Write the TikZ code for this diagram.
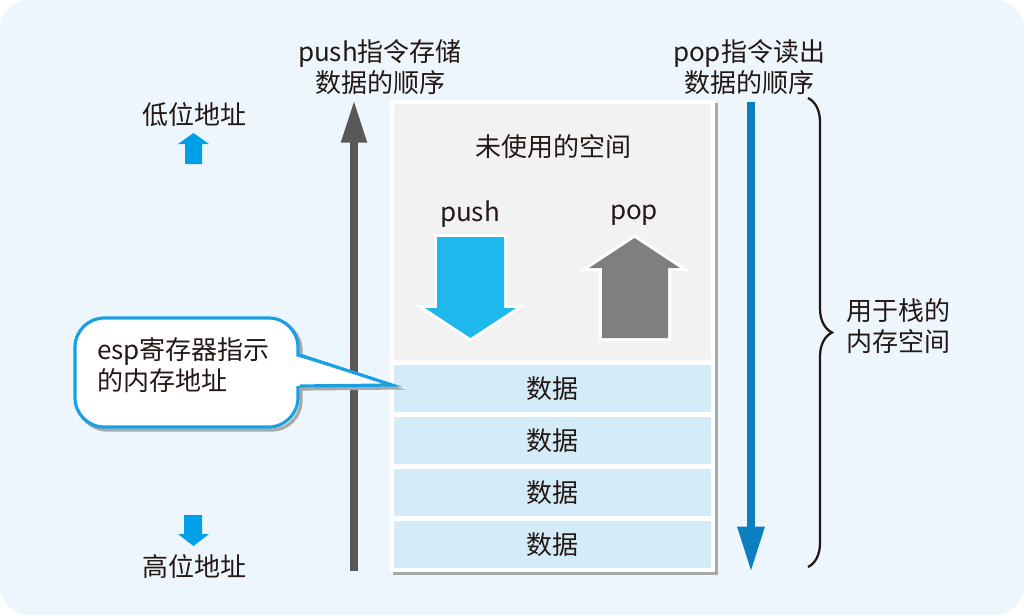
\documentclass[tikz,border=0pt]{standalone}
\usepackage{fontspec}
\setmainfont{Noto Sans CJK SC}
\usetikzlibrary{arrows.meta,decorations.pathreplacing}
\definecolor{bg}{HTML}{EEF6FD}
\definecolor{unusedc}{HTML}{F2F2F2}
\definecolor{rowc}{HTML}{D3ECF8}
\definecolor{shadowc}{HTML}{A8A8A8}
\definecolor{pushc}{HTML}{1EB8EC}
\definecolor{popc}{HTML}{7F7F7F}
\definecolor{darkc}{HTML}{595757}
\definecolor{rightc}{HTML}{0A80C0}
\definecolor{calloutc}{HTML}{1AA0E2}
\definecolor{smallc}{HTML}{00A0E9}
\definecolor{textc}{HTML}{231815}
\begin{document}
\begin{tikzpicture}[x=0.75pt,y=-0.75pt,
  txt/.style={font=\fontsize{19.5}{23}\selectfont, text=textc, inner sep=0pt, align=center},
  rowbox/.style={fill=rowc, minimum width=237.75pt, minimum height=35.25pt, inner sep=0pt, font=\fontsize{19.5}{23}\selectfont, text=textc},
  fatwhite/.style={draw=white, line width=4.5pt, line join=miter},
]
\useasboundingbox (0,0) rectangle (1024,615);
\fill[white] (0,0) rectangle (1024,615);
\fill[bg, rounded corners=22pt] (0,0) rectangle (1024,615);

% stack frame
\fill[shadowc] (393,103) rectangle (718,575);
\node[fill=white, minimum width=243.75pt, minimum height=354pt, inner sep=0pt] (stack) at (552.5,336) {};
\node[fill=unusedc, minimum width=237.75pt, minimum height=192pt, inner sep=0pt] (unused) at (552.5,232) {};
\node[txt] (unusedlbl) at (553,147) {未使用的空间};
\node[rowbox] (d1) at (552.5,388.5) {数据};
\node[rowbox] (d2) at (552.5,440.5) {数据};
\node[rowbox] (d3) at (552.5,492.5) {数据};
\node[rowbox] (d4) at (552.5,544.5) {数据};

% push / pop arrows
\node[txt] (pushlbl) at (470,214) {push};
\node[txt] (poplbl) at (634,215) {pop};
\path[fatwhite] (437,237) -- (504,237) -- (504,308) -- (516,308) -- (470.5,338) -- (425,308) -- (437,308) -- cycle;
\fill[pushc] (437,237) -- (504,237) -- (504,308) -- (516,308) -- (470.5,338) -- (425,308) -- (437,308) -- cycle;
\path[fatwhite] (602,338) -- (668,338) -- (668,268) -- (680,268) -- (634.5,238) -- (589,268) -- (602,268) -- cycle;
\fill[popc] (602,338) -- (668,338) -- (668,268) -- (680,268) -- (634.5,238) -- (589,268) -- (602,268) -- cycle;

% left dark arrow (push order)
\coordinate (pushbot) at (354,571);
\coordinate (pushtop) at (354,100);
\draw[darkc, line width=6pt, -{Triangle[length=32pt,width=18pt]}] (pushbot) -- (pushtop);
\node[txt] (pushorder) at (380,67) {push指令存储\\数据的顺序};

% right blue arrow (pop order)
\coordinate (poptop) at (751,102);
\coordinate (popbot) at (751,572);
\draw[rightc, line width=6pt, -{Triangle[length=34pt,width=19pt]}] (poptop) -- (popbot);
\node[txt] (poporder) at (749,67) {pop指令读出\\数据的顺序};

% brace
\coordinate (bt) at (808,98);
\coordinate (bb) at (808,567);
\draw[textc, line width=1.7pt, decorate, decoration={brace, amplitude=18pt}] (bt) -- (bb);
\node[txt, align=left, anchor=west] (bracelbl) at (846,326) {用于栈的\\内存空间};

% low / high address
\node[txt] (low) at (194,115) {低位地址};
\fill[smallc] (185,164) -- (185,144) -- (178,144) -- (193.5,133) -- (209,144) -- (202,144) -- (202,164) -- cycle;
\fill[smallc] (184,515) -- (202,515) -- (202,534) -- (209,534) -- (193.5,546) -- (178,534) -- (184,534) -- cycle;
\node[txt] (high) at (194,567) {高位地址};

% callout
\coordinate (tip) at (392,385);
\begin{scope}[shift={(3,3)}]
\draw[shadowc, line width=2.4pt, rounded corners=22pt] (75,318) rectangle (298,427);
\draw[shadowc, line width=2.4pt] (298,355) -- (392,385) -- (298,386);
\end{scope}
\node[draw=calloutc, line width=2.4pt, fill=white, rounded corners=22pt, minimum width=167.25pt, minimum height=81.75pt, inner sep=0pt] (cb) at (186.5,372.5) {};
\fill[white] (295,356) -- (tip) -- (295,386) -- cycle;
\draw[calloutc, line width=2.4pt, line join=miter] (cb.east |- 0,355) -- (tip) -- (cb.east |- 0,386);
\node[txt, align=left, anchor=west] (cbtext) at (97,365) {esp寄存器指示\\的内存地址};
\end{tikzpicture}
\end{document}
